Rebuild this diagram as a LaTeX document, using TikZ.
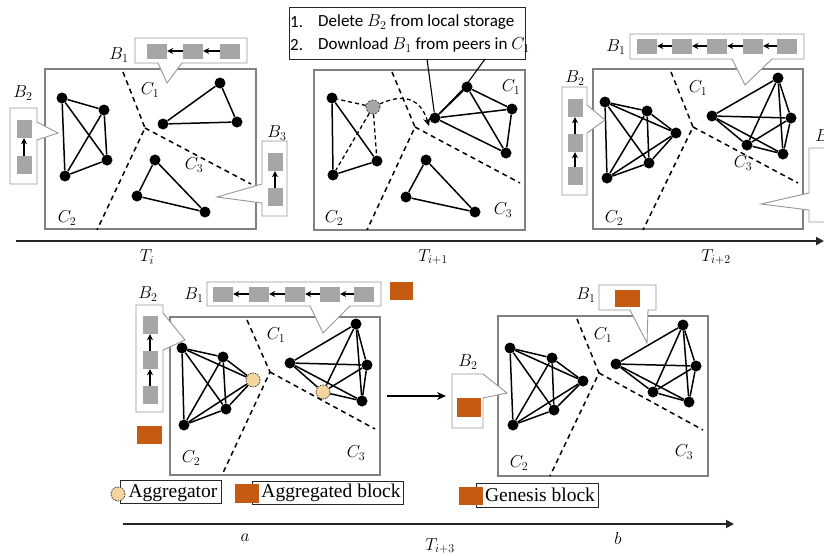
\documentclass[tikz,border=0pt]{standalone}
\usepackage{fontspec}
\newfontfamily\notefont{Carlito}
\newfontfamily\legendfont{Liberation Serif}
\usetikzlibrary{arrows.meta}
\definecolor{blockgray}{RGB}{166,166,166}
\definecolor{blockorange}{RGB}{197,90,17}
\definecolor{aggfill}{RGB}{242,214,158}
\definecolor{framegray}{RGB}{128,128,128}
\definecolor{bubblegray}{RGB}{150,150,150}
\tikzset{
  peer/.style={circle, fill=black, inner sep=0pt, minimum size=11pt},
  aggnode/.style={circle, fill=aggfill, draw=black!75, line width=0.8pt,
    dash pattern=on 1.5pt off 1pt, inner sep=0pt, minimum size=14pt},
  ghost/.style={circle, fill=blockgray, draw=black!75, line width=0.8pt,
    dash pattern=on 2pt off 1.5pt, inner sep=0pt, minimum size=14pt},
  link/.style={line width=1.5pt},
  partition/.style={line width=1.5pt, dash pattern=on 5pt off 4pt},
  panel/.style={draw=framegray, line width=1.2pt},
  bubble/.style={draw=bubblegray, line width=0.9pt, fill=white},
  hblk/.style={fill=blockgray, inner sep=0pt, minimum width=20pt, minimum height=15pt},
  vblk/.style={fill=blockgray, inner sep=0pt, minimum width=15pt, minimum height=18pt},
  chainarrow/.style={-{Stealth[length=6pt,width=6pt]}, line width=1.4pt},
  lbl/.style={inner sep=0pt, font=\fontsize{18}{20}\selectfont},
  notetext/.style={inner sep=0pt, font=\notefont\fontsize{17}{19}\selectfont},
  legtext/.style={inner sep=0pt, font=\legendfont\fontsize{19.5}{21}\selectfont},
  legbox/.style={draw=black!85, line width=1pt},
  timeaxis/.style={line width=1.8pt, draw=black!85, -{Triangle[length=8pt,width=8pt]}},
}
\begin{document}
\begin{tikzpicture}[x=1pt,y=-1pt]
\useasboundingbox (0,0) rectangle (824,555);
\clip (0,0) rectangle (824,555);

% ---------------- time axes ----------------
\coordinate (ax1s) at (16,241);
\coordinate (ax1e) at (824,241);
\draw[timeaxis] (ax1s) -- (ax1e);
\node[lbl] (ti0) at (147,257) {$T_i$};
\node[lbl] (ti1) at (433,257) {$T_{i+1}$};
\node[lbl] (ti2) at (716,257) {$T_{i+2}$};

\coordinate (ax2s) at (123,524);
\coordinate (ax2e) at (734,524);
\draw[timeaxis] (ax2s) -- (ax2e);
\node[lbl] (la) at (245,538) {$a$};
\node[lbl] (lb) at (618,538) {$b$};
\node[lbl] (ti3) at (440,546) {$T_{i+3}$};

% ================= panel T_i =================
\draw[panel] (45,69) rectangle (256,229);
\coordinate (q1t) at (123,72);
\coordinate (q1j) at (145,128);
\coordinate (q1b) at (97,230);
\coordinate (q1r) at (251,184);
\draw[partition] (q1t) -- (q1j) -- (q1b);
\draw[partition] (q1j) -- (q1r);

\node[peer] (p1a1) at (220,83) {};
\node[peer] (p1a2) at (163,124) {};
\node[peer] (p1a3) at (237,122) {};
\node[peer] (p1b1) at (62,98) {};
\node[peer] (p1b2) at (104,110) {};
\node[peer] (p1b3) at (107,160) {};
\node[peer] (p1b4) at (65,176) {};
\node[peer] (p1c1) at (155,160) {};
\node[peer] (p1c2) at (137,196) {};
\node[peer] (p1c3) at (205,212) {};
\foreach \u/\v in {p1a1/p1a2,p1a2/p1a3,p1a3/p1a1,
                   p1b1/p1b2,p1b1/p1b3,p1b1/p1b4,p1b2/p1b3,p1b2/p1b4,p1b3/p1b4,
                   p1c1/p1c2,p1c2/p1c3,p1c3/p1c1}
  \draw[link] (\u) -- (\v);

\node[lbl] (c11) at (150,90) {$C_1$};
\node[lbl] (c12) at (67,218) {$C_2$};
\node[lbl] (c13) at (194,165) {$C_3$};

% B1 bubble
\draw[bubble] (135,38) -- (247,38) -- (247,63) -- (182,63) -- (167,83) -- (158,63) -- (135,63) -- cycle;
\node[hblk] (k1a) at (157,51) {};
\node[hblk] (k1b) at (193,51) {};
\node[hblk] (k1c) at (230,51) {};
\draw[chainarrow] (k1c) -- (k1b);
\draw[chainarrow] (k1b) -- (k1a);
\node[lbl] (b11) at (119,55) {$B_1$};
% B2 bubble
\draw[bubble] (10,108) -- (37,108) -- (37,122) -- (58,133) -- (37,140) -- (37,184) -- (10,184) -- cycle;
\node[vblk] (k2a) at (24,129) {};
\node[vblk] (k2b) at (24,165) {};
\draw[chainarrow] (k2b) -- (k2a);
\node[lbl] (b12) at (23,93) {$B_2$};
% B3 bubble
\draw[bubble] (262,141) -- (287,141) -- (287,216) -- (262,216) -- (262,203) -- (217,197) -- (262,184) -- cycle;
\node[vblk] (k3a) at (275,162) {};
\node[vblk] (k3b) at (275,197) {};
\draw[chainarrow] (k3b) -- (k3a);
\node[lbl] (b13) at (277,133) {$B_3$};

% ================= panel T_{i+1} =================
\draw[panel] (314,70) rectangle (525,230);
\coordinate (q2t) at (392,72);
\coordinate (q2j) at (415,127);
\coordinate (q2b) at (367,230);
\coordinate (q2r) at (520,183);
\draw[partition] (q2t) -- (q2j) -- (q2b);
\draw[partition] (q2j) -- (q2r);

\node[peer] (p2a1) at (467,87) {};
\node[peer] (p2a2) at (512,109) {};
\node[peer] (p2a3) at (435,118) {};
\node[peer] (p2a4) at (506,153) {};
\node[peer] (p2b1) at (332,98) {};
\node[peer] (p2b2) at (377,161) {};
\node[peer] (p2b3) at (333,175) {};
\node[peer] (p2c1) at (426,160) {};
\node[peer] (p2c2) at (406,197) {};
\node[peer] (p2c3) at (475,212) {};
\node[ghost] (p2g) at (373,107) {};
\foreach \u/\v in {p2a1/p2a2,p2a1/p2a3,p2a1/p2a4,p2a2/p2a3,p2a2/p2a4,p2a3/p2a4,
                   p2b1/p2b2,p2b2/p2b3,p2b3/p2b1,
                   p2c1/p2c2,p2c2/p2c3,p2c3/p2c1}
  \draw[link] (\u) -- (\v);
\foreach \v in {p2b1,p2b2,p2b3}
  \draw[line width=1.3pt, dash pattern=on 4pt off 3pt] (p2g) -- (\v);
\draw[line width=1.3pt, dash pattern=on 4pt off 3pt, -{Stealth[length=8pt,width=7pt]}]
  (p2g) .. controls (393,98) and (418,90) .. ([xshift=-6pt,yshift=-8pt]p2a3.center);

\node[lbl] (c21) at (511,87) {$C_1$};
\node[lbl] (c22) at (334,218) {$C_2$};
\node[lbl] (c23) at (503,210) {$C_3$};

% instruction note
\node[draw=black!85, line width=1pt, fill=white, minimum width=236pt, minimum height=52pt,
      inner sep=0pt, anchor=north west] (note) at (289,7) {};
\node[notetext, anchor=west] (n1num) at (290,22) {1.};
\node[notetext, anchor=west] (n1) at (318,22) {Delete $B_2$ from local storage};
\node[notetext, anchor=west] (n2num) at (290,45) {2.};
\node[notetext, anchor=west] (n2) at (318,45) {Download $B_1$ from peers in $C_1$};
\coordinate (nl1) at (427,59);
\coordinate (nl2) at (485,59);
\coordinate (nl2m) at (464,88);
\draw[line width=1.1pt] (nl1) -- (p2a3);
\draw[line width=1.1pt] (nl2) -- (nl2m) -- (p2a3);

% ================= panel T_{i+2} =================
\draw[panel] (593,69) rectangle (803,229);
\coordinate (q3t) at (671,72);
\coordinate (q3j) at (693,127);
\coordinate (q3b) at (643,230);
\coordinate (q3r) at (798,183);
\draw[partition] (q3t) -- (q3j) -- (q3b);
\draw[partition] (q3j) -- (q3r);

\node[peer] (p3a1) at (778,78) {};
\node[peer] (p3a2) at (712,116) {};
\node[peer] (p3a3) at (791,118) {};
\node[peer] (p3a4) at (747,145) {};
\node[peer] (p3a5) at (783,154) {};
\node[peer] (p3b1) at (605,102) {};
\node[peer] (p3b2) at (647,111) {};
\node[peer] (p3b3) at (676,133) {};
\node[peer] (p3b4) at (649,163) {};
\node[peer] (p3b5) at (607,178) {};
\foreach \g in {p3a,p3b}
  \foreach \u/\v in {1/2,1/3,1/4,1/5,2/3,2/4,2/5,3/4,3/5,4/5}
    \draw[link] (\g\u) -- (\g\v);

\node[lbl] (c31) at (698,88) {$C_1$};
\node[lbl] (c32) at (614,218) {$C_2$};
\node[lbl] (c33) at (743,163) {$C_3$};

% B1 bubble
\draw[bubble] (630,34) -- (804,34) -- (804,59) -- (772,59) -- (745,85) -- (732,59) -- (630,59) -- cycle;
\foreach \i/\x in {1/647,2/682,3/717,4/753,5/787}
  \node[hblk] (k4\i) at (\x,46) {};
\foreach \i/\j in {5/4,4/3,3/2,2/1}
  \draw[chainarrow] (k4\i) -- (k4\j);
\node[lbl] (b31) at (616,47) {$B_1$};
% B2 bubble
\draw[bubble] (562,87) -- (587,87) -- (587,105) -- (605,120) -- (587,133) -- (587,195) -- (562,195) -- cycle;
\foreach \i/\y in {1/108,2/143,3/176}
  \node[vblk] (k5\i) at (575,\y) {};
\draw[chainarrow] (k53) -- (k52);
\draw[chainarrow] (k52) -- (k51);
\node[lbl] (b32) at (575,78) {$B_2$};
% B3 bubble (runs past the right edge)
\draw[bubble] (809,148) -- (840,148) -- (840,222) -- (809,222) -- (809,210) -- (761,204) -- (809,193) -- cycle;
\node[lbl] (b33) at (825,137) {$B_3$};

% ================= panel a =================
\draw[panel] (170,317) rectangle (380,475);
\coordinate (q4t) at (247,320);
\coordinate (q4j) at (270,372);
\coordinate (q4b) at (222,475);
\coordinate (q4r) at (375,429);
\draw[partition] (q4t) -- (q4j) -- (q4b);
\draw[partition] (q4j) -- (q4r);

\node[peer] (p4a1) at (356,324) {};
\node[peer] (p4a2) at (290,363) {};
\node[peer] (p4a3) at (367,365) {};
\node[aggnode] (p4a4) at (323,392) {};
\node[peer] (p4a5) at (362,401) {};
\node[peer] (p4b1) at (182,348) {};
\node[peer] (p4b2) at (223,357) {};
\node[aggnode] (p4b3) at (253,380) {};
\node[peer] (p4b4) at (226,409) {};
\node[peer] (p4b5) at (184,425) {};
\foreach \g in {p4a,p4b}
  \foreach \u/\v in {1/2,1/3,1/4,1/5,2/3,2/4,2/5,3/4,3/5,4/5}
    \draw[link] (\g\u) -- (\g\v);

\node[lbl] (c41) at (276,335) {$C_1$};
\node[lbl] (c42) at (191,458) {$C_2$};
\node[lbl] (c43) at (356,453) {$C_3$};

% B1 bubble
\draw[bubble] (207,282) -- (381,282) -- (381,306) -- (350,306) -- (323,333) -- (310,306) -- (207,306) -- cycle;
\foreach \i/\x in {1/223,2/259,3/295,4/330,5/364}
  \node[hblk] (k6\i) at (\x,294) {};
\foreach \i/\j in {5/4,4/3,3/2,2/1}
  \draw[chainarrow] (k6\i) -- (k6\j);
\node[lbl] (b41) at (194,295) {$B_1$};
\node[fill=blockorange, inner sep=0pt, minimum width=23pt, minimum height=18pt] (o41) at (401,291) {};
% B2 bubble
\draw[bubble] (136,305) -- (163,305) -- (163,313) -- (185,340) -- (163,350) -- (163,412) -- (136,412) -- cycle;
\foreach \i/\y in {1/325,2/360,3/395}
  \node[vblk] (k7\i) at (150,\y) {};
\draw[chainarrow] (k73) -- (k72);
\draw[chainarrow] (k72) -- (k71);
\node[lbl] (b42) at (148,294) {$B_2$};
\node[fill=blockorange, inner sep=0pt, minimum width=25pt, minimum height=18pt] (o42) at (149.5,435) {};

% transition arrow
\coordinate (tr1) at (387,396);
\coordinate (tr2) at (446,396);
\draw[line width=1.4pt, -{Stealth[length=9pt,width=8pt]}] (tr1) -- (tr2);

% ================= panel b =================
\draw[panel] (498,316) rectangle (708,476);
\coordinate (q5t) at (577,319);
\coordinate (q5j) at (599,373);
\coordinate (q5b) at (550,476);
\coordinate (q5r) at (703,430);
\draw[partition] (q5t) -- (q5j) -- (q5b);
\draw[partition] (q5j) -- (q5r);

\node[peer] (p5a1) at (683,325) {};
\node[peer] (p5a2) at (616,364) {};
\node[peer] (p5a3) at (696,366) {};
\node[peer] (p5a4) at (653,392) {};
\node[peer] (p5a5) at (689,402) {};
\node[peer] (p5b1) at (510,348) {};
\node[peer] (p5b2) at (552,358) {};
\node[peer] (p5b3) at (583,381) {};
\node[peer] (p5b4) at (554,410) {};
\node[peer] (p5b5) at (513,425) {};
\foreach \g in {p5a,p5b}
  \foreach \u/\v in {1/2,1/3,1/4,1/5,2/3,2/4,2/5,3/4,3/5,4/5}
    \draw[link] (\g\u) -- (\g\v);

\node[lbl] (c51) at (603,335) {$C_1$};
\node[lbl] (c52) at (519,463) {$C_2$};
\node[lbl] (c53) at (684,452) {$C_3$};

% B1 bubble
\draw[bubble] (599,285) -- (656,285) -- (656,310) -- (648,310) -- (647,343) -- (630,310) -- (599,310) -- cycle;
\node[fill=blockorange, inner sep=0pt, minimum width=25pt, minimum height=17pt] (o51) at (627.5,298.5) {};
\node[lbl] (b51) at (586,295) {$B_1$};
% B2 bubble
\draw[bubble] (452,374) -- (483,374) -- (507,393) -- (483,398) -- (483,428) -- (452,428) -- cycle;
\node[fill=blockorange, inner sep=0pt, minimum width=24pt, minimum height=19pt] (o52) at (469,407.5) {};
\node[lbl] (b52) at (468,362) {$B_2$};

% ================= legend =================
\node[legbox, minimum width=101pt, minimum height=23pt, inner sep=0pt] (lg1box) at (170.5,491.5) {};
\node[aggnode, minimum size=14pt] (lg1dot) at (118,494) {};
\node[legtext] (lg1) at (173,493) {Aggregator};

\node[legbox, minimum width=151pt, minimum height=23pt, inner sep=0pt] (lg2box) at (327.5,492.5) {};
\node[fill=blockorange, inner sep=0pt, minimum width=24pt, minimum height=19pt] (lg2sq) at (247,493.5) {};
\node[legtext] (lg2) at (331,493) {Aggregated block};

\node[legbox, minimum width=122pt, minimum height=24pt, inner sep=0pt] (lg3box) at (537,495) {};
\node[fill=blockorange, inner sep=0pt, minimum width=24pt, minimum height=18pt] (lg3sq) at (471,496) {};
\node[legtext] (lg3) at (540,495) {Genesis block};
\end{tikzpicture}
\end{document}
